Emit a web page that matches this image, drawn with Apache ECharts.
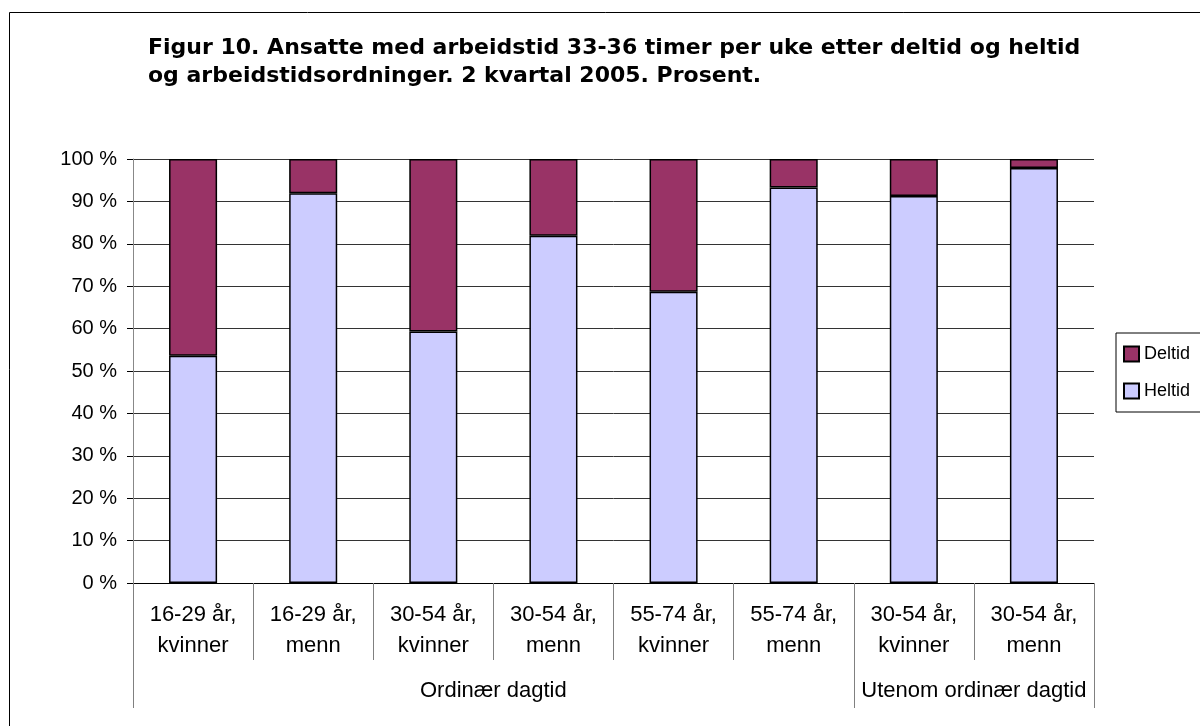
<!DOCTYPE html>
<html>
<head>
<meta charset="utf-8">
<script src="https://cdn.jsdelivr.net/npm/echarts@6/dist/echarts.min.js"></script>
<style>
  html, body { margin: 0; padding: 0; background: #fff; }
  #chart { width: 1200px; height: 726px; }
</style>
</head>
<body>
<div id="chart"></div>
<script>
// categories (bottom level) and groups (top level)
const categories = [
  '16-29 år,\nkvinner', '16-29 år,\nmenn',
  '30-54 år,\nkvinner', '30-54 år,\nmenn',
  '55-74 år,\nkvinner', '55-74 år,\nmenn',
  '30-54 år,\nkvinner', '30-54 år,\nmenn'
];
const groups = ['Ordinær dagtid', 'Utenom ordinær dagtid'];
const groupSizes = [6, 2];

// prosent
const heltid = [53.6, 91.9, 59.3, 81.9, 68.7, 93.3, 91.3, 97.9];
const deltid = [46.4, 8.1, 40.7, 18.1, 31.3, 6.7, 8.7, 2.1];

const yTicks = [0, 10, 20, 30, 40, 50, 60, 70, 80, 90, 100];

// group boundaries and midpoints on a 0..n scale
const groupEdges = [0];
groupSizes.forEach(n => groupEdges.push(groupEdges[groupEdges.length - 1] + n));
const groupMids = groups.map((g, i) => (groupEdges[i] + groupEdges[i + 1]) / 2);

const font = '"Liberation Sans", Arial, sans-serif';

const chart = echarts.init(document.getElementById('chart'));

const option = {
  backgroundColor: '#fff',
  animation: false,
  title: {
    text: 'Figur 10. Ansatte med arbeidstid 33-36 timer per uke etter deltid og heltid\nog arbeidstidsordninger. 2 kvartal 2005. Prosent.',
    left: 148,
    top: 34,
    padding: 0,
    textStyle: {
      fontFamily: '"DejaVu Sans", sans-serif',
      fontSize: 22,
      fontWeight: 'bold',
      color: '#000',
      lineHeight: 28
    }
  },
  legend: {
    orient: 'vertical',
    left: 1116,
    top: 333,
    padding: [12, 20, 12, 7],
    itemGap: 19,
    itemWidth: 15,
    itemHeight: 15,
    borderColor: '#000',
    borderWidth: 1,
    borderRadius: 0,
    icon: 'rect',
    data: ['Deltid', 'Heltid'],
    textStyle: { fontFamily: font, fontSize: 18, color: '#000' }
  },
  grid: {
    left: 133,
    right: 106,
    top: 159,
    bottom: 143,
    containLabel: false
  },
  xAxis: [
    {
      type: 'category',
      data: categories,
      position: 'bottom',
      axisLine: { lineStyle: { color: '#000', width: 1 } },
      axisTick: {
        show: true,
        interval: 0,
        length: 77,
        lineStyle: { color: '#808080', width: 1 }
      },
      axisLabel: {
        interval: 0,
        margin: 16,
        fontFamily: font,
        fontSize: 22,
        lineHeight: 31,
        color: '#000'
      },
      splitLine: { show: false }
    },
    {
      type: 'value',
      min: 0,
      max: categories.length,
      position: 'bottom',
      offset: 0,
      axisLine: { show: false },
      axisTick: {
        show: true,
        customValues: groupEdges,
        length: 125,
        lineStyle: { color: '#808080', width: 1 }
      },
      axisLabel: {
        customValues: groupMids,
        margin: 97,
        fontFamily: font,
        fontSize: 22,
        color: '#000',
        formatter: v => groups[groupMids.indexOf(v)] || ''
      },
      splitLine: { show: false }
    }
  ],
  yAxis: {
    type: 'value',
    min: 0,
    max: 100,
    interval: 10,
    axisLine: { show: true, lineStyle: { color: '#888', width: 1 } },
    axisTick: { show: true, length: 6, lineStyle: { color: '#000' } },
    axisLabel: {
      margin: 16,
      fontFamily: font,
      fontSize: 20,
      color: '#000',
      formatter: v => yTicks.includes(v) ? v + ' %' : ''
    },
    splitLine: { show: true, lineStyle: { color: '#333', width: 1 } }
  },
  series: [
    {
      name: 'Heltid',
      type: 'bar',
      stack: 'total',
      xAxisIndex: 0,
      barWidth: '40%',
      data: heltid,
      itemStyle: { color: '#CCCCFF', borderColor: '#000', borderWidth: 1.5 }
    },
    {
      name: 'Deltid',
      type: 'bar',
      stack: 'total',
      xAxisIndex: 0,
      barWidth: '40%',
      data: deltid,
      itemStyle: { color: '#993366', borderColor: '#000', borderWidth: 1.5 }
    }
  ],
  graphic: [
    {
      type: 'rect',
      left: 7,
      top: 10,
      shape: { width: 1300, height: 800 },
      style: { fill: 'none', stroke: '#000', lineWidth: 1 },
      silent: true,
      z: -1
    }
  ]
};

chart.setOption(option);
</script>
</body>
</html>
